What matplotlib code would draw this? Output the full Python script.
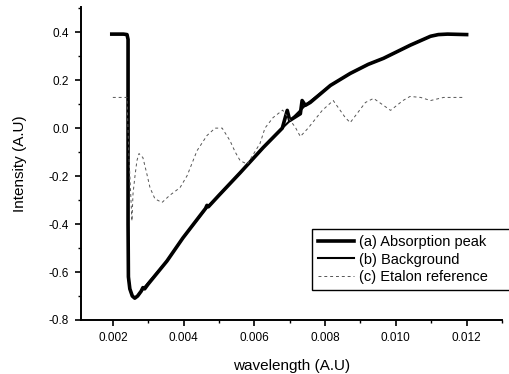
import numpy as np
import matplotlib
matplotlib.use("Agg")
import matplotlib.pyplot as plt
from matplotlib.ticker import MultipleLocator, FormatStrFormatter

plt.rcParams['font.family'] = ['Liberation Sans', 'DejaVu Sans']

# (a) absorption peak
abs_x = [0.00197, 0.0023, 0.00240, 0.00243, 0.00243, 0.00243, 0.00244, 0.00248,
         0.00255, 0.00262, 0.0027, 0.0028, 0.00285, 0.0029, 0.0030, 0.00353,
         0.00398, 0.00462, 0.00466, 0.0047, 0.0050, 0.0056, 0.00625, 0.00679,
         0.00693, 0.0070, 0.0073, 0.00735, 0.00744, 0.00758, 0.00815, 0.00871,
         0.00922, 0.00965, 0.01041, 0.01098, 0.0112, 0.01146, 0.0120]
abs_y = [0.392, 0.392, 0.39, 0.37, 0.0, -0.4, -0.62, -0.67,
         -0.70, -0.709, -0.70, -0.68, -0.665, -0.67, -0.65, -0.554,
         -0.458, -0.335, -0.322, -0.328, -0.28, -0.186, -0.081, 0.0,
         0.074, 0.032, 0.06, 0.115, 0.095, 0.107, 0.178, 0.228,
         0.266, 0.291, 0.346, 0.383, 0.39, 0.392, 0.39]

# (b) background
bg_x = [0.00197, 0.0023, 0.00240, 0.00243, 0.00243, 0.00243, 0.00244, 0.00248,
        0.00255, 0.00262, 0.0027, 0.0028, 0.0030, 0.00353, 0.00398, 0.00466,
        0.0050, 0.0056, 0.00625, 0.00679, 0.0070, 0.00744, 0.00815, 0.00871,
        0.00922, 0.00965, 0.01041, 0.01098, 0.0112, 0.01146, 0.0120]
bg_y = [0.392, 0.392, 0.39, 0.37, 0.0, -0.4, -0.62, -0.67,
        -0.70, -0.709, -0.70, -0.68, -0.645, -0.554, -0.458, -0.33,
        -0.28, -0.186, -0.081, 0.0, 0.03, 0.095, 0.178, 0.228,
        0.266, 0.291, 0.346, 0.383, 0.39, 0.392, 0.39]

# (c) etalon reference
et_x = [0.0020, 0.0024, 0.00245, 0.00254, 0.00257, 0.00262, 0.00268, 0.00274,
        0.00285, 0.00296, 0.00305, 0.00319, 0.00339, 0.00361, 0.0039, 0.0041,
        0.00438, 0.00466, 0.00489, 0.00509, 0.00531, 0.00546, 0.0056, 0.0058,
        0.00616, 0.0063, 0.00653, 0.0068, 0.00716, 0.0073, 0.00752, 0.00792,
        0.00823, 0.00857, 0.00871, 0.00914, 0.00937, 0.00965, 0.00985, 0.0102,
        0.0104, 0.0107, 0.01098, 0.01135, 0.0119]
et_y = [0.128, 0.128, -0.1, -0.387, -0.274, -0.207, -0.136, -0.106,
        -0.123, -0.19, -0.248, -0.295, -0.31, -0.28, -0.248, -0.198,
        -0.094, -0.031, 0.0, 0.0, -0.052, -0.10, -0.136, -0.15,
        -0.064, 0.0, 0.044, 0.075, 0.003, -0.035, 0.0, 0.074,
        0.115, 0.044, 0.023, 0.107, 0.124, 0.095, 0.074, 0.115,
        0.132, 0.128, 0.115, 0.128, 0.128]

labels = ['(a) Absorption peak', '(b) Background', '(c) Etalon reference']

fig = plt.figure(figsize=(5.1, 3.74), dpi=100)
ax = fig.add_axes([81 / 510, 1 - 320 / 374, (502 - 81) / 510, (320 - 7) / 374])

ax.plot(abs_x, abs_y, color='black', lw=2.6, label=labels[0])
ax.plot(bg_x, bg_y, color='black', lw=1.5, label=labels[1])
ax.plot(et_x, et_y, color='#555555', lw=0.7, dashes=(3, 3), label=labels[2])

ax.set_xlim(0.0011, 0.013)
ax.set_ylim(-0.8, 0.505)
ax.xaxis.set_major_locator(MultipleLocator(0.002))
ax.xaxis.set_minor_locator(MultipleLocator(0.001))
ax.yaxis.set_major_locator(MultipleLocator(0.2))
ax.yaxis.set_minor_locator(MultipleLocator(0.1))
ax.xaxis.set_major_formatter(FormatStrFormatter('%.3f'))
ax.yaxis.set_major_formatter(FormatStrFormatter('%.1f'))

for s in ['top', 'right']:
    ax.spines[s].set_visible(False)
for s in ['left', 'bottom']:
    ax.spines[s].set_linewidth(1.4)
ax.tick_params(which='major', direction='out', length=4.5, width=1.2, labelsize=8.5, pad=4)
ax.tick_params(which='minor', direction='out', length=2.5, width=1.0)

ax.set_xlabel('wavelength (A.U)', fontsize=11, labelpad=11)
ax.set_ylabel('Intensity (A.U)', fontsize=11, labelpad=16)

leg = ax.legend(loc='lower left', mode='expand',
                bbox_to_anchor=(312 / 510, 1 - 290 / 374, 260 / 510, 67 / 374),
                bbox_transform=fig.transFigure, fontsize=10.5, frameon=True,
                fancybox=False, framealpha=1, edgecolor='black',
                handlelength=2.5, handletextpad=0.3, labelspacing=0.25,
                borderpad=0.4, borderaxespad=0)
leg.get_frame().set_linewidth(1.0)

fig.savefig('out.png', dpi=100)
